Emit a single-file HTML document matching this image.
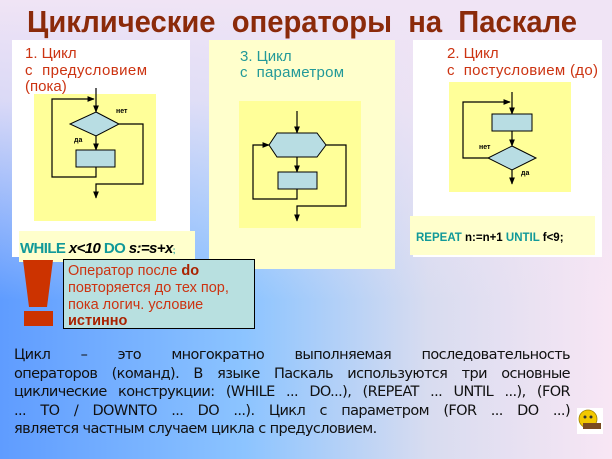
<!DOCTYPE html>
<html><head><meta charset="utf-8"><style>
html,body{margin:0;padding:0}
body{width:612px;height:459px;position:relative;overflow:hidden;font-family:"Liberation Sans",sans-serif;
background:linear-gradient(to bottom,rgba(240,228,245,1) 0px,rgba(240,228,245,0.85) 100px,rgba(240,228,245,0) 300px),linear-gradient(to right,#5f9cff 0%,#8cc4ff 40%,#d8dcf0 70%,#f8e6f4 100%);}
.a{position:absolute}
.body{left:14px;top:346px;width:556px;font-size:14.5px;line-height:18.6px;color:#111;font-family:"DejaVu Sans",sans-serif;letter-spacing:-0.6px}
.body div{text-align:justify;text-align-last:justify;white-space:nowrap}
.body div.l{text-align-last:left}
svg text{white-space:pre}
</style></head><body>
<svg class="a" style="left:0;top:0" width="612" height="459" xmlns="http://www.w3.org/2000/svg">
<defs><marker id="ar" viewBox="0 0 10 10" refX="9" refY="5" markerWidth="6" markerHeight="6" orient="auto"><path d="M0,1 L10,5 L0,9 z" fill="#000"/></marker></defs>
<text x="302" y="32" text-anchor="middle" font-family="Liberation Sans" font-weight="bold" font-size="31" fill="#8b2a0a" textLength="550" lengthAdjust="spacingAndGlyphs">Циклические  операторы  на  Паскале</text>
<rect x="12" y="40" width="178" height="217" fill="#fff"/>
<rect x="34" y="94" width="122" height="127" fill="#ffff99"/>
<rect x="19" y="231" width="176" height="31" fill="#ffffcc"/>
<rect x="209" y="40" width="186" height="229" fill="#ffffcc"/>
<rect x="239" y="101" width="122" height="127" fill="#ffff99"/>
<rect x="413" y="40" width="189" height="217" fill="#fff"/>
<rect x="449" y="82" width="122" height="110" fill="#ffff99"/>
<rect x="410" y="216" width="185" height="39" fill="#ffffcc"/>
<g font-size="15" font-family="Liberation Sans">
<text x="25" y="58" fill="#cc3311">1. Цикл</text><text x="25" y="75" fill="#cc3311" textLength="122" lengthAdjust="spacing">с  предусловием</text><text x="25" y="91" fill="#cc3311">(пока)</text>
<text x="240" y="61" fill="#229999">3. Цикл</text><text x="240" y="77" fill="#229999" textLength="104" lengthAdjust="spacing">с  параметром</text>
<text x="447" y="58" fill="#cc3311">2. Цикл</text><text x="447" y="75" fill="#cc3311" textLength="151" lengthAdjust="spacing">с  постусловием (до)</text>
</g>
<g stroke="#000" stroke-width="1.2" fill="none">
<line x1="96" y1="88" x2="96" y2="112" marker-end="url(#ar)"/>
<polyline points="96,167 96,177 52,177 52,99 94,99" marker-end="url(#ar)"/>
<line x1="96" y1="136" x2="96" y2="150" marker-end="url(#ar)"/>
<polyline points="119,124 143,124 143,184 96,184 96,198" marker-end="url(#ar)"/>
<line x1="297" y1="111" x2="297" y2="133" marker-end="url(#ar)"/>
<line x1="297" y1="157" x2="297" y2="172" marker-end="url(#ar)"/>
<polyline points="297,189 297,199 253,199 253,145 269,145" marker-end="url(#ar)"/>
<polyline points="326,145 346,145 346,206 297,206 297,221" marker-end="url(#ar)"/>
<line x1="512" y1="92" x2="512" y2="114" marker-end="url(#ar)"/>
<polyline points="488,158 463,158 463,102 510,102" marker-end="url(#ar)"/>
<line x1="512" y1="131" x2="512" y2="146" marker-end="url(#ar)"/>
<line x1="512" y1="170" x2="512" y2="184" marker-end="url(#ar)"/>
</g>
<g stroke="#000" stroke-width="1" fill="#b8dde3">
<polygon points="96,112 119,124 96,136 70,124"/>
<rect x="76" y="150" width="39" height="17"/>
<polygon points="277,133 317,133 326,145 317,157 277,157 269,145"/>
<rect x="278" y="172" width="39" height="17"/>
<rect x="492" y="114" width="40" height="17"/>
<polygon points="512,146 536,158 512,170 488,158"/>
</g>
<g font-size="7" font-family="Liberation Sans" font-weight="bold" fill="#000">
<text x="116" y="113">нет</text><text x="74" y="142">да</text>
<text x="479" y="149">нет</text><text x="521" y="175">да</text>
</g>
<text x="20" y="253" font-size="15" font-weight="bold" font-family="Liberation Sans" letter-spacing="-0.6"><tspan fill="#119999">WHILE </tspan><tspan fill="#000" font-style="italic">x&lt;10 </tspan><tspan fill="#119999">DO </tspan><tspan fill="#000" font-style="italic">s:=s+x</tspan><tspan fill="#119999" font-size="8">;</tspan></text>
<text x="416" y="241" font-size="11.5" font-weight="bold" font-family="Liberation Sans"><tspan fill="#119999">REPEAT </tspan><tspan fill="#000">n:=n+1 </tspan><tspan fill="#119999">UNTIL </tspan><tspan fill="#000">f&lt;9;</tspan></text>
<polygon points="23,260 53,260 47,307 29,307" fill="#cc3300"/>
<rect x="24" y="311" width="29" height="15" fill="#cc3300"/>
<rect x="63.5" y="259.5" width="191" height="69" fill="#b8e0e0" stroke="#000" stroke-width="1"/>
<g font-size="14.5" font-family="Liberation Sans" fill="#cc3311">
<text x="68" y="275">Оператор после <tspan font-weight="bold" fill="#aa2200">do</tspan></text>
<text x="68" y="292">повторяется до тех пор,</text>
<text x="68" y="309">пока логич. условие</text>
<text x="68" y="325" font-weight="bold" fill="#aa2200">истинно</text>
</g>
<rect x="577" y="408" width="26" height="26" fill="#fff"/>
<circle cx="588" cy="419" r="9" fill="#f2c800" stroke="#a08000" stroke-width="0.8"/>
<circle cx="585" cy="417" r="1.5" fill="#333"/><circle cx="591" cy="417" r="1.5" fill="#333"/>
<rect x="583" y="423" width="18" height="6" fill="#7a4a20"/>
</svg>
<div class="a body">
<div>Цикл – это многократно выполняемая последовательность</div>
<div>операторов (команд). В языке Паскаль используются три основные</div>
<div>циклические конструкции: (WHILE ... DO...), (REPEAT ... UNTIL ...), (FOR</div>
<div>... TO / DOWNTO ... DO ...). Цикл с параметром (FOR ... DO ...)</div>
<div class="l">является частным случаем цикла с предусловием.</div>
</div>
</body></html>
